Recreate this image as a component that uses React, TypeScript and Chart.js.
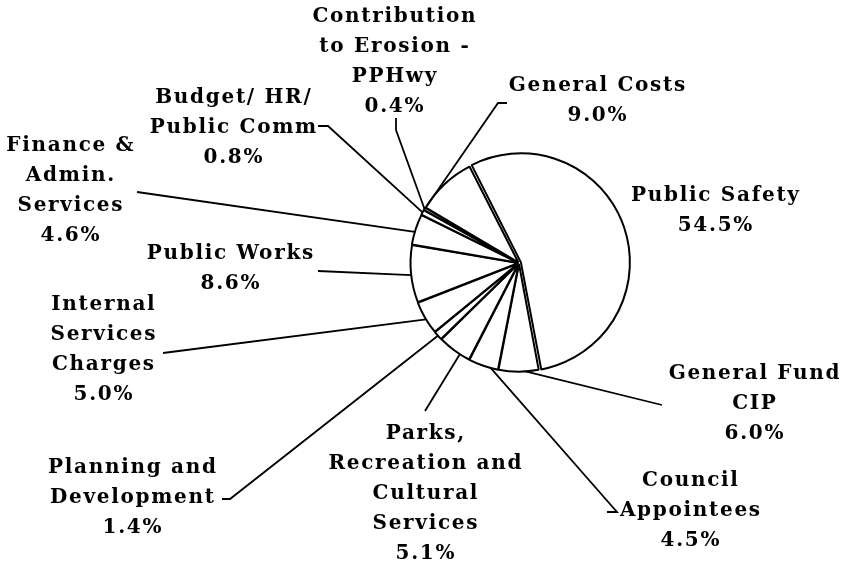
import React, { useEffect, useRef } from "react";
import { Chart, registerables } from "chart.js";

Chart.register(...registerables);

// ---- data ----
const categories: string[][] = [
  ["Public Safety"],
  ["General Fund", "CIP"],
  ["Council", "Appointees"],
  ["Parks,", "Recreation and", "Cultural", "Services"],
  ["Planning and", "Development"],
  ["Internal", "Services", "Charges"],
  ["Public Works"],
  ["Finance &", "Admin.", "Services"],
  ["Budget/ HR/", "Public Comm"],
  ["Contribution", "to Erosion -", "PPHwy"],
  ["General Costs"],
];
const shares: number[] = [54.5, 6.0, 4.5, 5.1, 1.4, 5.0, 8.6, 4.6, 0.8, 0.4, 9.0];

// ---- layout (label placement, not data) ----
const labelCenterX = [715, 754, 690, 425, 132, 103, 230, 70, 233, 394, 597];
const labelFirstY = [196, 374, 481, 434, 468, 305, 254, 146, 98, 17, 86];
const lineHeight = 30;
const leaderPaths: number[][][] = [
  [],
  [[662, 405]],
  [[607, 512], [617, 512]],
  [[425, 411]],
  [[222, 499], [230, 499]],
  [[163, 353]],
  [[318, 271]],
  [[137, 192]],
  [[318, 126], [328, 126]],
  [[396, 118], [396, 130]],
  [[507, 103], [498, 103]],
];
const leaderFrac = [0.5, 0.33, 0.25, 0.31, 0.5, 0.45, 0.48, 0.42, 0.5, 0.5, 0.03];
const sliceOffsets = [8, 4, 4, 4, 4, 4, 4, 4, 4, 4, 4];

const FONT = "bold 20px 'DejaVu Serif'";
const LETTER_SPACING = 1.7;

const labelPlugin = {
  id: "pieLabels",
  afterDatasetsDraw(chart: any) {
    const ctx = chart.ctx as CanvasRenderingContext2D;
    const meta = chart.getDatasetMeta(0);
    ctx.save();
    ctx.font = FONT;
    (ctx as any).letterSpacing = LETTER_SPACING + "px";
    ctx.fillStyle = "#000";
    ctx.strokeStyle = "#000";
    ctx.lineWidth = 1.8;
    ctx.textAlign = "center";
    ctx.textBaseline = "middle";
    meta.data.forEach((arc: any, i: number) => {
      const { x, y, startAngle, endAngle, outerRadius } = arc.getProps(
        ["x", "y", "startAngle", "endAngle", "outerRadius"],
        true
      );
      const circ = endAngle - startAngle;
      const half = (startAngle + endAngle) / 2;
      const off = (arc.options.offset || 0) / 4;
      const fix = 1 - Math.sin(Math.min(Math.PI, circ));
      const tot = off * (1 + fix);
      const cx = x + Math.cos(half) * tot;
      const cy = y + Math.sin(half) * tot;
      const path = leaderPaths[i];
      if (path.length) {
        const a = startAngle + circ * leaderFrac[i];
        const px = cx + Math.cos(a) * outerRadius;
        const py = cy + Math.sin(a) * outerRadius;
        ctx.beginPath();
        ctx.moveTo(path[0][0], path[0][1]);
        for (let k = 1; k < path.length; k++) ctx.lineTo(path[k][0], path[k][1]);
        ctx.lineTo(px, py);
        ctx.stroke();
      }
      const lines = [...categories[i], shares[i].toFixed(1) + "%"];
      lines.forEach((t, k) => {
        ctx.fillText(t, labelCenterX[i] + LETTER_SPACING / 2, labelFirstY[i] + k * lineHeight);
      });
    });
    ctx.restore();
  },
};

export default function App() {
  const ref = useRef<HTMLCanvasElement | null>(null);
  useEffect(() => {
    if (!ref.current) return;
    const chart = new Chart(ref.current, {
      type: "pie",
      data: {
        labels: categories.map((c) => c.join(" ")),
        datasets: [
          {
            data: shares,
            backgroundColor: "#ffffff",
            borderColor: "#000000",
            borderWidth: 2,
            offset: sliceOffsets,
            radius: 107,
          } as any,
        ],
      },
      options: {
        responsive: false,
        animation: false,
        rotation: -27,
        layout: { padding: { left: 188, right: 0, top: 0, bottom: 40 } },
        plugins: {
          legend: { display: false },
          tooltip: { enabled: false },
          title: { display: false },
        },
      },
      plugins: [labelPlugin],
    });
    return () => chart.destroy();
  }, []);
  return (
    <div style={{ position: "absolute", left: 0, top: 0, width: 850, height: 566, background: "#fff" }}>
      <canvas ref={ref} width={850} height={566} />
    </div>
  );
}
